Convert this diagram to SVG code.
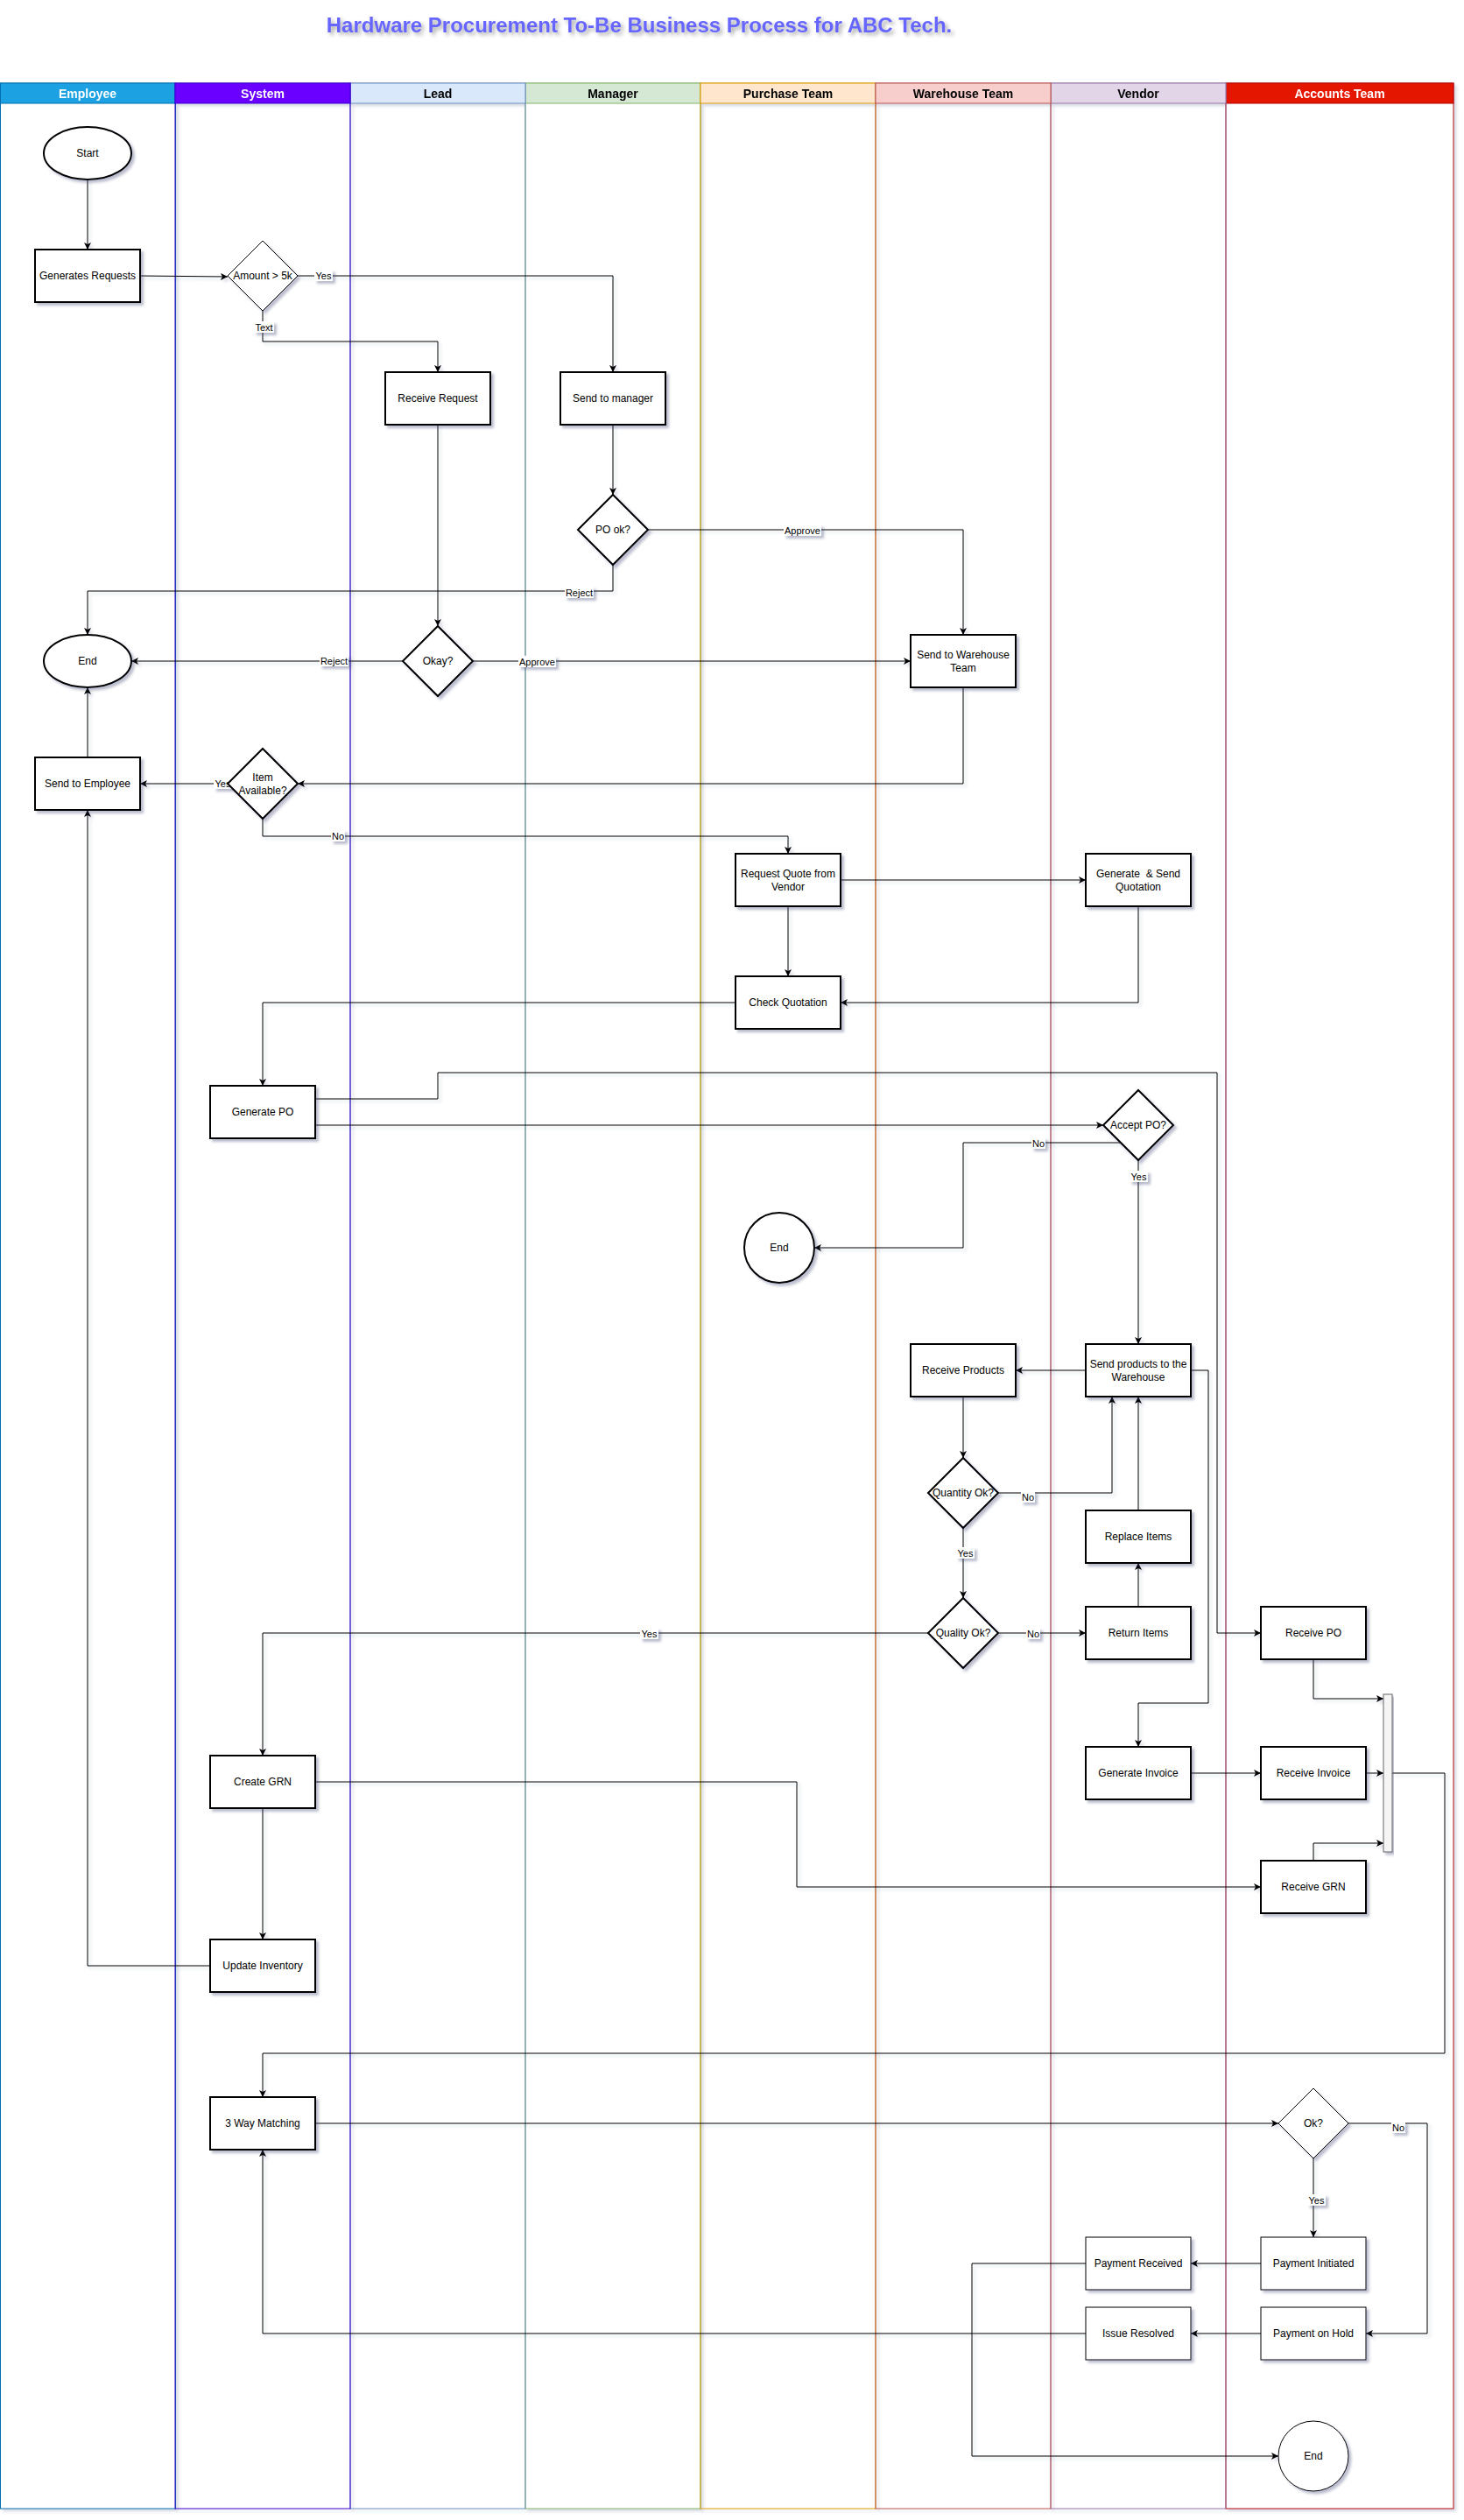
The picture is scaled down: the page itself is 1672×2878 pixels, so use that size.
<svg xmlns="http://www.w3.org/2000/svg" width="1672" height="2878" viewBox="0 0 1672 2878">
<defs>
<style>
text{font-family:"Liberation Sans",Arial,Helvetica,sans-serif;}
.t{font-size:12px;text-anchor:middle;fill:#000;}
.lbl{font-size:11px;text-anchor:middle;fill:#000;}
.hdr{font-size:14px;font-weight:bold;text-anchor:middle;}
.s{fill:#fff;stroke:#000;stroke-width:2;}
.thin{stroke-width:1;}
.e{fill:none;stroke:#000;stroke-width:1;marker-end:url(#arr);}
.en{fill:none;stroke:#000;stroke-width:1;}
.lb{fill:#fff;stroke:none;}
</style>
<filter id="sh" x="-10%" y="-10%" width="130%" height="130%">
<feDropShadow dx="3" dy="3" stdDeviation="1.6" flood-color="#3b4371" flood-opacity="0.35"/>
</filter>
<filter id="shl" x="-5%" y="-5%" width="110%" height="110%">
<feDropShadow dx="3" dy="3" stdDeviation="1.5" flood-color="#3b4371" flood-opacity="0.18"/>
</filter>
<filter id="tsh" x="-10%" y="-50%" width="120%" height="200%">
<feDropShadow dx="3" dy="3" stdDeviation="2" flood-color="#444" flood-opacity="0.45"/>
</filter>
<marker id="arr" viewBox="0 0 8 8" refX="8" refY="4" markerWidth="8" markerHeight="8" markerUnits="userSpaceOnUse" orient="auto">
<path d="M0,0 L8,4 L0,8 L2,4 Z" fill="#000"/>
</marker>
</defs>
<rect x="0" y="0" width="1672" height="2878" fill="#fff"/>

<text x="730" y="37" font-size="24" font-weight="bold" text-anchor="middle" fill="#6666ff" filter="url(#tsh)">Hardware Procurement To-Be Business Process for ABC Tech.</text>

<g id="lanes" filter="url(#shl)">
<g id="lane-employee">
<rect x="0.5" y="95" width="200" height="2770" fill="#fff" stroke="#006EAF"/>
<rect x="0.5" y="95" width="200" height="23" fill="#1ba1e2" stroke="#006EAF"/>
<text class="hdr" x="100" y="111.5" fill="#fff">Employee</text>
</g>
<g id="lane-manager">
<rect x="600" y="95" width="200" height="2770" fill="#fff" stroke="#82b366"/>
<rect x="600" y="95" width="200" height="23" fill="#d5e8d4" stroke="#82b366"/>
<text class="hdr" x="700" y="111.5" fill="#000">Manager</text>
</g>
<g id="lane-lead">
<rect x="400" y="95" width="200" height="2770" fill="none" stroke="#6c8ebf"/>
<rect x="400" y="95" width="200" height="23" fill="#dae8fc" stroke="#6c8ebf"/>
<text class="hdr" x="500" y="111.5" fill="#000">Lead</text>
</g>
<g id="lane-system">
<rect x="200" y="95" width="200" height="2770" fill="none" stroke="#3700CC"/>
<rect x="200" y="95" width="200" height="23" fill="#6a00ff" stroke="#3700CC"/>
<text class="hdr" x="300" y="111.5" fill="#fff">System</text>
</g>
<g id="lane-purchase">
<rect x="800" y="95" width="200" height="2770" fill="none" stroke="#d79b00"/>
<rect x="800" y="95" width="200" height="23" fill="#ffe6cc" stroke="#d79b00"/>
<text class="hdr" x="900" y="111.5" fill="#000">Purchase Team</text>
</g>
<g id="lane-accounts">
<rect x="1400" y="95" width="260" height="2770" fill="#fff" stroke="#B20000"/>
<rect x="1400" y="95" width="260" height="23" fill="#e51400" stroke="#B20000"/>
<text class="hdr" x="1530" y="111.5" fill="#fff">Accounts Team</text>
</g>
<g id="lane-vendor">
<rect x="1200" y="95" width="200" height="2770" fill="none" stroke="#9673a6"/>
<rect x="1200" y="95" width="200" height="23" fill="#e1d5e7" stroke="#9673a6"/>
<text class="hdr" x="1300" y="111.5" fill="#000">Vendor</text>
</g>
<g id="lane-warehouse">
<rect x="1000" y="95" width="200" height="2770" fill="none" stroke="#b85450"/>
<rect x="1000" y="95" width="200" height="23" fill="#f8cecc" stroke="#b85450"/>
<text class="hdr" x="1100" y="111.5" fill="#000">Warehouse Team</text>
</g>
</g>

<g id="connectors" filter="url(#shl)">
<path class="e" d="M100,205 V285"/>
<path class="e" d="M160,315 L260,316"/>
<path class="e" d="M340,315 H700 V425"/>
<path class="e" d="M300,355 V390 H500 V425"/>
<path class="e" d="M500,485 V715"/>
<path class="e" d="M700,485 V565"/>
<path class="e" d="M740,605 H1100 V725"/>
<path class="e" d="M700,645 V675 H100 V725"/>
<path class="e" d="M460,755 H150"/>
<path class="e" d="M540,755 H1040"/>
<path class="e" d="M1100,785 V895 H340"/>
<path class="e" d="M260,895 H160"/>
<path class="e" d="M100,865 V785"/>
<path class="e" d="M300,935 V955 H900 V975"/>
<path class="e" d="M960,1005 H1240"/>
<path class="e" d="M900,1035 V1115"/>
<path class="e" d="M1300,1035 V1145 H960"/>
<path class="e" d="M840,1145 H300 V1240"/>
<path class="e" d="M360,1255 H500 V1225 H1390 V1865 H1440"/>
<path class="e" d="M360,1285 H1260"/>
<path class="e" d="M1280,1305 H1100 V1425 H930"/>
<path class="e" d="M1300,1325 V1535"/>
<path class="e" d="M1240,1565 H1160"/>
<path class="e" d="M1360,1565 H1380 V1945 H1300 V1995"/>
<path class="e" d="M1100,1595 V1665"/>
<path class="e" d="M1140,1705 H1270 V1595"/>
<path class="e" d="M1100,1745 V1825"/>
<path class="e" d="M1140,1865 H1240"/>
<path class="e" d="M1060,1865 H300 V2005"/>
<path class="e" d="M1300,1835 V1785"/>
<path class="e" d="M1300,1725 V1595"/>
<path class="e" d="M1500,1895 V1940 H1580"/>
<path class="e" d="M1360,2025 H1440"/>
<path class="e" d="M1560,2025 H1580"/>
<path class="e" d="M1500,2125 V2105 H1580"/>
<path class="e" d="M360,2035 H910 V2155 H1440"/>
<path class="e" d="M300,2065 V2215"/>
<path class="e" d="M240,2245 H100 V925"/>
<path class="e" d="M1590,2025 H1650 V2345 H300 V2395"/>
<path class="e" d="M360,2425 H1460"/>
<path class="e" d="M1540,2425 H1630 V2665 H1560"/>
<path class="e" d="M1500,2465 V2555"/>
<path class="e" d="M1440,2585 H1360"/>
<path class="e" d="M1440,2665 H1360"/>
<path class="e" d="M1240,2585 H1110 V2805 H1460"/>
<path class="e" d="M1240,2665 H300 V2455"/>
</g>

<g id="edge-labels">
<g filter="url(#sh)">
<rect class="lb" x="359" y="308" width="21" height="13"/>
<rect class="lb" x="290" y="367" width="23" height="13"/>
<rect class="lb" x="645" y="670" width="33" height="13"/>
<rect class="lb" x="365" y="748" width="33" height="13"/>
<rect class="lb" x="592" y="749" width="43" height="13"/>
<rect class="lb" x="895" y="599" width="43" height="13"/>
<rect class="lb" x="244" y="888" width="21" height="13"/>
<rect class="lb" x="378" y="948" width="16" height="13"/>
<rect class="lb" x="1178" y="1299" width="16" height="13"/>
<rect class="lb" x="1290" y="1337" width="21" height="13"/>
<rect class="lb" x="1166" y="1703" width="16" height="13"/>
<rect class="lb" x="1092" y="1767" width="21" height="13"/>
<rect class="lb" x="1172" y="1859" width="16" height="13"/>
<rect class="lb" x="731" y="1859" width="21" height="13"/>
<rect class="lb" x="1589" y="2423" width="16" height="13"/>
<rect class="lb" x="1493" y="2506" width="21" height="13"/>
</g>
<text class="lbl" x="369.5" y="319">Yes</text>
<text class="lbl" x="301.5" y="378">Text</text>
<text class="lbl" x="661.5" y="681">Reject</text>
<text class="lbl" x="381.5" y="759">Reject</text>
<text class="lbl" x="613.5" y="760">Approve</text>
<text class="lbl" x="916.5" y="610">Approve</text>
<text class="lbl" x="254.5" y="899">Yes</text>
<text class="lbl" x="386" y="959">No</text>
<text class="lbl" x="1186" y="1310">No</text>
<text class="lbl" x="1300.5" y="1348">Yes</text>
<text class="lbl" x="1174" y="1714">No</text>
<text class="lbl" x="1102.5" y="1778">Yes</text>
<text class="lbl" x="1180" y="1870">No</text>
<text class="lbl" x="741.5" y="1870">Yes</text>
<text class="lbl" x="1597" y="2434">No</text>
<text class="lbl" x="1503.5" y="2517">Yes</text>
</g>

<g id="nodes">
<g id="start"><ellipse class="s" cx="100" cy="175" rx="50" ry="30" filter="url(#sh)"/><text class="t" x="100" y="179">Start</text></g>
<g id="generates-requests"><rect class="s" x="40" y="285" width="120" height="60" filter="url(#sh)"/><text class="t" x="100" y="319">Generates Requests</text></g>
<g id="amount-5k"><polygon class="s thin" points="300,275 340,315 300,355 260,315" filter="url(#sh)"/><text class="t" x="300" y="319">Amount &gt; 5k</text></g>
<g id="receive-request"><rect class="s" x="440" y="425" width="120" height="60" filter="url(#sh)"/><text class="t" x="500" y="459">Receive Request</text></g>
<g id="send-to-manager"><rect class="s" x="640" y="425" width="120" height="60" filter="url(#sh)"/><text class="t" x="700" y="459">Send to manager</text></g>
<g id="po-ok"><polygon class="s" points="700,565 740,605 700,645 660,605" filter="url(#sh)"/><text class="t" x="700" y="609">PO ok?</text></g>
<g id="end-1"><ellipse class="s" cx="100" cy="755" rx="50" ry="30" filter="url(#sh)"/><text class="t" x="100" y="759">End</text></g>
<g id="okay"><polygon class="s" points="500,715 540,755 500,795 460,755" filter="url(#sh)"/><text class="t" x="500" y="759">Okay?</text></g>
<g id="send-to-warehouse"><rect class="s" x="1040" y="725" width="120" height="60" filter="url(#sh)"/><text class="t" x="1100" y="751.5">Send to Warehouse</text><text class="t" x="1100" y="766.5">Team</text></g>
<g id="send-to-employee"><rect class="s" x="40" y="865" width="120" height="60" filter="url(#sh)"/><text class="t" x="100" y="899">Send to Employee</text></g>
<g id="item-available"><polygon class="s" points="300,855 340,895 300,935 260,895" filter="url(#sh)"/><text class="t" x="300" y="891.5">Item</text><text class="t" x="300" y="906.5">Available?</text></g>
<g id="request-quote"><rect class="s" x="840" y="975" width="120" height="60" filter="url(#sh)"/><text class="t" x="900" y="1001.5">Request Quote from</text><text class="t" x="900" y="1016.5">Vendor</text></g>
<g id="generate-quotation"><rect class="s" x="1240" y="975" width="120" height="60" filter="url(#sh)"/><text class="t" x="1300" y="1001.5" xml:space="preserve">Generate  &amp; Send</text><text class="t" x="1300" y="1016.5">Quotation</text></g>
<g id="check-quotation"><rect class="s" x="840" y="1115" width="120" height="60" filter="url(#sh)"/><text class="t" x="900" y="1149">Check Quotation</text></g>
<g id="generate-po"><rect class="s" x="240" y="1240" width="120" height="60" filter="url(#sh)"/><text class="t" x="300" y="1274">Generate PO</text></g>
<g id="accept-po"><polygon class="s" points="1300,1245 1340,1285 1300,1325 1260,1285" filter="url(#sh)"/><text class="t" x="1300" y="1289">Accept PO?</text></g>
<g id="end-2"><circle class="s" cx="890" cy="1425" r="40" filter="url(#sh)"/><text class="t" x="890" y="1429">End</text></g>
<g id="send-products"><rect class="s" x="1240" y="1535" width="120" height="60" filter="url(#sh)"/><text class="t" x="1300" y="1561.5">Send products to the</text><text class="t" x="1300" y="1576.5">Warehouse</text></g>
<g id="receive-products"><rect class="s" x="1040" y="1535" width="120" height="60" filter="url(#sh)"/><text class="t" x="1100" y="1569">Receive Products</text></g>
<g id="quantity-ok"><polygon class="s" points="1100,1665 1140,1705 1100,1745 1060,1705" filter="url(#sh)"/><text class="t" x="1100" y="1709">Quantity Ok?</text></g>
<g id="replace-items"><rect class="s" x="1240" y="1725" width="120" height="60" filter="url(#sh)"/><text class="t" x="1300" y="1759">Replace Items</text></g>
<g id="quality-ok"><polygon class="s" points="1100,1825 1140,1865 1100,1905 1060,1865" filter="url(#sh)"/><text class="t" x="1100" y="1869">Quality Ok?</text></g>
<g id="return-items"><rect class="s" x="1240" y="1835" width="120" height="60" filter="url(#sh)"/><text class="t" x="1300" y="1869">Return Items</text></g>
<g id="receive-po"><rect class="s" x="1440" y="1835" width="120" height="60" filter="url(#sh)"/><text class="t" x="1500" y="1869">Receive PO</text></g>
<g id="join-bar"><rect x="1580" y="1935" width="10" height="180" fill="#f5f5f5" stroke="#666" stroke-width="1" filter="url(#sh)"/></g>
<g id="generate-invoice"><rect class="s" x="1240" y="1995" width="120" height="60" filter="url(#sh)"/><text class="t" x="1300" y="2029">Generate Invoice</text></g>
<g id="receive-invoice"><rect class="s" x="1440" y="1995" width="120" height="60" filter="url(#sh)"/><text class="t" x="1500" y="2029">Receive Invoice</text></g>
<g id="receive-grn"><rect class="s" x="1440" y="2125" width="120" height="60" filter="url(#sh)"/><text class="t" x="1500" y="2159">Receive GRN</text></g>
<g id="create-grn"><rect class="s" x="240" y="2005" width="120" height="60" filter="url(#sh)"/><text class="t" x="300" y="2039">Create GRN</text></g>
<g id="update-inventory"><rect class="s" x="240" y="2215" width="120" height="60" filter="url(#sh)"/><text class="t" x="300" y="2249">Update Inventory</text></g>
<g id="three-way-matching"><rect class="s" x="240" y="2395" width="120" height="60" filter="url(#sh)"/><text class="t" x="300" y="2429">3 Way Matching</text></g>
<g id="ok"><polygon class="s thin" points="1500,2385 1540,2425 1500,2465 1460,2425" filter="url(#sh)"/><text class="t" x="1500" y="2429">Ok?</text></g>
<g id="payment-initiated"><rect class="s thin" x="1440" y="2555" width="120" height="60" filter="url(#sh)"/><text class="t" x="1500" y="2589">Payment Initiated</text></g>
<g id="payment-received"><rect class="s thin" x="1240" y="2555" width="120" height="60" filter="url(#sh)"/><text class="t" x="1300" y="2589">Payment Received</text></g>
<g id="payment-on-hold"><rect class="s thin" x="1440" y="2635" width="120" height="60" filter="url(#sh)"/><text class="t" x="1500" y="2669">Payment on Hold</text></g>
<g id="issue-resolved"><rect class="s thin" x="1240" y="2635" width="120" height="60" filter="url(#sh)"/><text class="t" x="1300" y="2669">Issue Resolved</text></g>
<g id="end-3"><circle class="s thin" cx="1500" cy="2805" r="40" filter="url(#sh)"/><text class="t" x="1500" y="2809">End</text></g>
</g>
</svg>
